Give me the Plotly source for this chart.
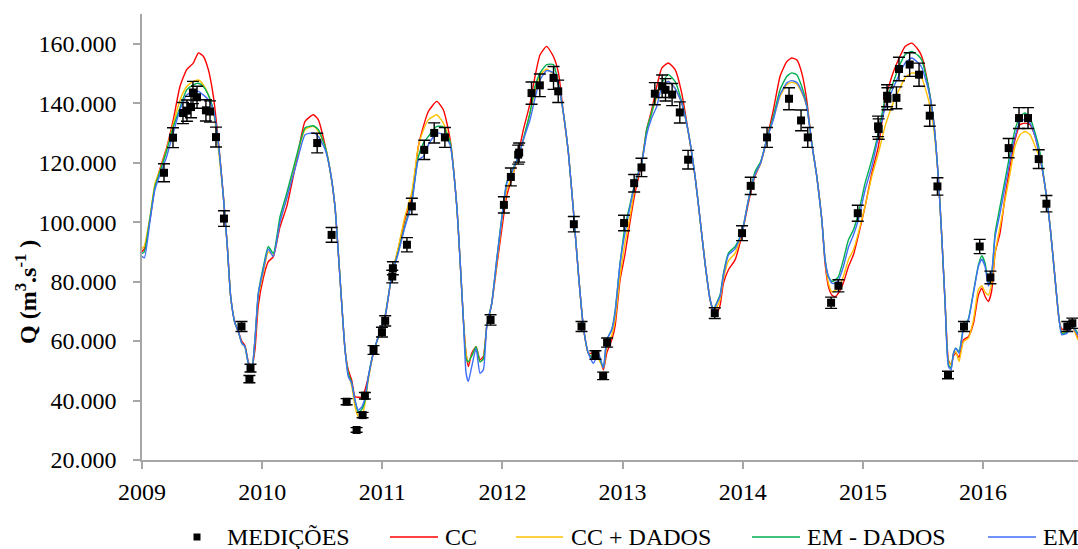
import plotly.graph_objects as go

# Simulated discharge (thousand m³/s) at decimal-year knots
t_sim = [
    2009.000, 2009.020, 2009.067, 2009.108, 2009.150, 2009.205, 2009.260, 2009.316, 2009.372, 2009.427, 2009.469, 2009.510, 2009.552, 2009.594, 2009.635, 2009.677, 2009.710, 2009.738, 2009.774, 2009.802, 2009.830, 2009.857, 2009.885, 2009.913, 2009.940, 2009.968,
    2010.010, 2010.051, 2010.093, 2010.149, 2010.205, 2010.288, 2010.357, 2010.426, 2010.468, 2010.523, 2010.565, 2010.606, 2010.634, 2010.662, 2010.690, 2010.717, 2010.745, 2010.773, 2010.800, 2010.829, 2010.856, 2010.884, 2010.925, 2010.967,
    2011.023, 2011.078, 2011.133, 2011.189, 2011.245, 2011.300, 2011.342, 2011.383, 2011.453, 2011.508, 2011.564, 2011.620, 2011.647, 2011.675, 2011.697, 2011.716, 2011.744, 2011.780, 2011.813, 2011.841, 2011.869, 2011.911, 2011.952, 2011.994,
    2012.036, 2012.077, 2012.132, 2012.174, 2012.230, 2012.271, 2012.313, 2012.368, 2012.424, 2012.466, 2012.507, 2012.549, 2012.590, 2012.632, 2012.673, 2012.715, 2012.757, 2012.798, 2012.840, 2012.868, 2012.910, 2012.937, 2012.979,
    2013.020, 2013.062, 2013.104, 2013.159, 2013.200, 2013.242, 2013.284, 2013.326, 2013.381, 2013.437, 2013.492, 2013.548, 2013.603, 2013.645, 2013.686, 2013.728, 2013.756, 2013.784, 2013.811, 2013.839, 2013.881, 2013.936,
    2013.992, 2014.047, 2014.102, 2014.150, 2014.199, 2014.255, 2014.310, 2014.366, 2014.407, 2014.449, 2014.491, 2014.532, 2014.574, 2014.616, 2014.658, 2014.685, 2014.713, 2014.741, 2014.768, 2014.796, 2014.837, 2014.879, 2014.921, 2014.962,
    2015.018, 2015.074, 2015.129, 2015.184, 2015.240, 2015.295, 2015.351, 2015.406, 2015.461, 2015.490, 2015.545, 2015.587, 2015.629, 2015.656, 2015.684, 2015.712, 2015.734, 2015.754, 2015.773, 2015.800, 2015.836, 2015.878, 2015.920, 2015.961,
    2015.989, 2016.017, 2016.044, 2016.072, 2016.100, 2016.141, 2016.183, 2016.225, 2016.266, 2016.308, 2016.350, 2016.391, 2016.433, 2016.475, 2016.516, 2016.558, 2016.600, 2016.633, 2016.655, 2016.697, 2016.738, 2016.790,
]

q_cc = [
    90.0, 91.0, 101.0, 112.0, 118.0, 125.0, 134.4, 145.6, 151.3, 153.5, 156.9, 155.8, 151.3, 142.3, 127.5, 109.0, 92.0, 75.0, 66.0, 63.2, 60.0, 58.5, 53.0, 51.0, 57.0, 72.0,
    81.3, 86.7, 88.4, 98.5, 105.3, 121.0, 133.9, 136.1, 134.4, 126.0, 117.6, 105.3, 89.6, 72.7, 57.0, 50.3, 46.9, 41.3, 41.1, 41.1, 43.6, 48.0, 56.0, 61.5,
    68.0, 82.0, 91.0, 101.0, 108.0, 125.5, 132.2, 137.2, 140.6, 137.8, 128.0, 105.3, 87.3, 67.1, 55.9, 51.4, 55.9, 58.1, 53.7, 54.8, 64.9, 72.7, 85.0, 97.5,
    109.0, 114.5, 123.0, 131.1, 140.0, 149.0, 156.3, 159.1, 155.7, 150.2, 136.7, 123.2, 104.1, 82.8, 64.9, 55.9, 56.0, 55.5, 50.3, 56.0, 60.4, 64.9, 80.6,
    89.2, 100.2, 110.0, 120.0, 131.1, 137.8, 145.6, 151.8, 153.5, 151.3, 143.4, 130.0, 115.4, 100.8, 86.2, 73.9, 70.0, 69.4, 72.0, 79.4, 84.0, 87.3,
    95.5, 106.5, 115.5, 120.0, 127.7, 137.8, 149.0, 154.0, 155.2, 154.6, 150.2, 141.2, 126.6, 115.4, 100.8, 86.0, 78.3, 75.5, 74.9, 76.1, 79.5, 85.0, 89.0, 95.5,
    105.3, 116.5, 125.5, 140.5, 149.0, 154.6, 159.1, 160.2, 157.9, 155.7, 145.6, 134.4, 114.2, 95.2, 72.7, 53.5, 52.0, 55.0, 56.0, 54.5, 60.4, 61.5, 66.0, 75.5,
    77.8, 75.0, 73.3, 77.0, 89.6, 96.3, 108.5, 119.0, 127.7, 132.8, 133.3, 132.8, 128.8, 121.5, 112.0, 98.5, 80.6, 67.1, 64.0, 64.0, 65.0, 61.0,
]

q_cc_dados = [
    91.0, 92.0, 102.0, 113.0, 117.5, 124.5, 133.0, 141.0, 145.6, 147.3, 147.8, 146.2, 142.8, 137.0, 125.0, 108.6, 91.8, 75.0, 66.0, 63.2, 59.3, 58.1, 52.5, 50.3, 60.0, 75.0,
    83.0, 90.0, 89.0, 100.5, 108.0, 122.0, 131.1, 132.2, 130.5, 125.5, 117.6, 105.3, 89.6, 72.7, 57.0, 49.0, 45.0, 37.9, 34.6, 34.8, 39.0, 47.0, 56.0, 61.5,
    68.5, 82.0, 91.5, 102.0, 110.0, 125.5, 131.0, 134.4, 136.1, 133.3, 127.0, 105.3, 87.3, 67.1, 55.9, 53.0, 55.0, 58.1, 53.0, 54.0, 64.9, 72.7, 86.0, 100.0,
    111.0, 115.0, 122.1, 127.7, 136.7, 144.0, 149.5, 151.5, 149.6, 146.0, 136.7, 123.2, 104.1, 82.8, 64.9, 55.9, 54.5, 54.0, 51.0, 58.0, 62.0, 67.0, 82.0,
    93.0, 102.0, 112.0, 119.9, 130.5, 136.7, 142.0, 146.2, 147.3, 145.0, 140.0, 130.0, 115.4, 100.8, 86.2, 73.9, 70.5, 71.5, 74.0, 81.0, 87.0, 89.5,
    96.3, 107.5, 116.0, 120.0, 127.7, 135.0, 142.3, 146.2, 147.0, 146.5, 143.5, 139.0, 126.6, 115.4, 100.8, 87.3, 79.5, 76.6, 77.0, 77.8, 81.7, 87.3, 90.7, 96.3,
    105.3, 115.4, 123.2, 132.2, 138.9, 144.0, 148.5, 150.2, 149.8, 148.5, 141.2, 132.0, 114.2, 95.2, 72.7, 53.0, 52.0, 55.5, 56.5, 53.1, 59.8, 61.0, 67.1, 77.3,
    78.6, 76.5, 75.5, 79.5, 89.6, 98.5, 107.5, 116.5, 125.5, 129.4, 130.5, 129.4, 125.5, 121.0, 112.0, 98.5, 80.6, 67.1, 63.0, 63.5, 65.0, 60.4,
]

q_em_dados = [
    89.5, 90.0, 101.5, 112.0, 117.0, 124.0, 132.0, 138.5, 144.5, 146.2, 146.7, 145.6, 142.8, 137.8, 126.6, 108.6, 91.8, 75.0, 66.0, 63.2, 59.3, 58.1, 52.5, 50.3, 60.4, 76.0,
    85.0, 91.8, 89.5, 101.9, 109.8, 122.5, 131.7, 132.4, 131.1, 125.5, 117.6, 105.3, 89.6, 72.7, 57.0, 49.0, 46.0, 40.0, 36.0, 37.0, 40.0, 48.0, 56.0, 61.5,
    68.5, 82.0, 90.0, 99.0, 107.0, 122.0, 126.6, 128.8, 132.2, 132.0, 127.0, 105.3, 87.3, 67.1, 54.0, 53.0, 55.0, 58.1, 53.0, 54.0, 64.9, 72.7, 87.3, 101.5,
    113.5, 117.0, 122.1, 128.0, 137.0, 145.6, 150.2, 153.0, 153.0, 146.5, 136.7, 123.2, 104.1, 82.8, 64.9, 55.9, 54.0, 55.0, 51.0, 60.4, 64.0, 70.0, 86.2,
    98.5, 106.0, 113.5, 119.9, 131.1, 136.7, 143.4, 146.8, 149.6, 147.3, 140.5, 130.0, 115.4, 100.8, 86.2, 73.9, 70.5, 73.0, 75.5, 82.8, 89.6, 91.8,
    96.3, 107.5, 117.0, 120.5, 127.7, 135.6, 144.5, 149.0, 150.2, 149.6, 145.6, 139.5, 126.6, 115.4, 100.8, 87.3, 81.7, 80.0, 80.6, 81.7, 87.3, 94.0, 97.4, 103.0,
    113.1, 121.0, 130.0, 141.2, 145.6, 151.8, 156.3, 157.4, 156.0, 154.5, 145.6, 134.4, 114.2, 95.2, 72.7, 52.0, 51.0, 56.0, 57.6, 56.5, 64.3, 67.5, 76.6, 85.5,
    88.7, 86.2, 79.5, 82.8, 96.3, 105.3, 114.2, 123.2, 131.1, 135.6, 136.7, 135.0, 130.0, 123.2, 112.0, 98.5, 80.6, 67.1, 62.5, 63.0, 65.5, 62.5,
]

q_em = [
    88.5, 88.0, 100.5, 111.0, 116.0, 122.0, 130.0, 137.8, 142.8, 144.0, 144.0, 142.8, 141.2, 137.8, 126.6, 108.6, 91.8, 75.0, 66.0, 63.2, 59.3, 58.1, 52.5, 50.3, 60.4, 76.0,
    84.0, 91.0, 88.4, 100.2, 108.1, 120.0, 129.4, 130.0, 128.8, 124.5, 117.6, 105.3, 89.6, 72.7, 57.0, 48.0, 45.9, 40.0, 36.8, 37.9, 41.0, 48.0, 56.0, 61.5,
    68.0, 82.0, 89.6, 98.5, 106.0, 121.0, 122.1, 126.0, 130.0, 129.4, 126.0, 105.3, 87.3, 67.1, 49.2, 46.4, 51.4, 57.5, 49.2, 50.3, 64.9, 72.7, 87.3, 101.0,
    113.1, 116.5, 122.1, 127.7, 134.5, 141.7, 147.9, 151.0, 150.2, 146.0, 136.7, 123.2, 104.1, 82.8, 64.9, 55.9, 52.5, 55.9, 51.0, 60.4, 63.8, 69.4, 86.2,
    96.5, 105.3, 113.1, 119.9, 129.4, 135.0, 138.9, 145.6, 147.3, 145.0, 140.0, 130.0, 115.4, 100.8, 86.2, 73.9, 70.5, 72.7, 75.0, 82.0, 89.0, 91.0,
    96.3, 107.5, 116.0, 120.0, 127.7, 134.5, 142.9, 146.8, 147.6, 147.0, 144.0, 139.0, 126.6, 115.4, 100.8, 87.3, 81.7, 79.5, 79.5, 80.5, 85.0, 91.5, 95.7, 100.8,
    110.8, 118.7, 128.8, 138.4, 144.0, 149.0, 153.5, 155.2, 153.5, 152.0, 144.5, 134.4, 114.2, 95.2, 72.7, 51.4, 50.3, 55.9, 57.6, 55.9, 63.8, 67.1, 76.1, 85.1,
    87.5, 85.0, 78.5, 82.8, 95.0, 103.0, 112.0, 121.0, 128.8, 133.9, 134.5, 133.3, 128.8, 121.5, 112.0, 98.5, 80.6, 67.1, 62.1, 62.6, 65.0, 62.0,
]

# Gauged discharge (thousand m³/s)
t_obs = [
    2009.183, 2009.258, 2009.341, 2009.374, 2009.408, 2009.424, 2009.458, 2009.532, 2009.566, 2009.616, 2009.682, 2009.828, 2009.903, 2009.894,
    2010.458, 2010.578, 2010.703, 2010.786, 2010.836, 2010.855, 2010.927, 2010.997,
    2011.024, 2011.083, 2011.088, 2011.205, 2011.246, 2011.349, 2011.432, 2011.521, 2011.901,
    2012.012, 2012.070, 2012.131, 2012.139, 2012.242, 2012.311, 2012.425, 2012.464, 2012.594, 2012.658, 2012.774, 2012.838, 2012.871,
    2013.012, 2013.096, 2013.157, 2013.268, 2013.329, 2013.357, 2013.412, 2013.476, 2013.545, 2013.767, 2013.994,
    2014.066, 2014.202, 2014.385, 2014.485, 2014.541, 2014.735, 2014.796, 2014.957,
    2015.126, 2015.131, 2015.201, 2015.204, 2015.279, 2015.300, 2015.389, 2015.467, 2015.556, 2015.620, 2015.708, 2015.841, 2015.972,
    2016.061, 2016.213, 2016.299, 2016.374, 2016.463, 2016.527, 2016.701, 2016.743,
]
q_obs = [
    116.6, 128.4, 136.7, 137.5, 138.7, 143.6, 142.0, 137.6, 137.2, 128.6, 101.2, 64.9, 50.9, 47.2,
    126.6, 95.7, 39.6, 30.1, 35.1, 41.6, 57.0, 63.0,
    66.8, 81.7, 84.5, 92.4, 105.3, 124.3, 130.0, 128.5, 67.1,
    105.8, 115.2, 122.7, 123.4, 143.4, 146.0, 148.5, 144.0, 99.3, 64.9, 55.3, 48.3, 59.5,
    99.7, 113.1, 118.4, 143.2, 145.7, 144.5, 142.9, 136.9, 121.0, 69.4, 96.3,
    112.2, 128.5, 141.5, 134.2, 128.5, 72.9, 78.6, 103.0,
    132.2, 131.3, 142.5, 141.5, 141.8, 151.5, 153.0, 149.6, 135.8, 112.0, 48.6, 64.9, 91.8,
    81.4, 124.9, 135.0, 135.0, 121.2, 106.2, 64.9, 66.0,
]
obs_error_pct = 2.6

THOUSAND = 1000.0

series = [
    ("CC", q_cc, "#FF0000"),
    ("CC + DADOS", q_cc_dados, "#FFC000"),
    ("EM - DADOS", q_em_dados, "#00B050"),
    ("EM", q_em, "#3F6FF8"),
]
for name, q, _ in series:
    if len(q) != len(t_sim):
        raise ValueError(f"{name}: {len(q)} values for {len(t_sim)} knots")

SERIF = "Liberation Serif, Times New Roman, Times, DejaVu Serif, serif"
FONT_SIZE = 24

fig = go.Figure()

for name, q, color in series:
    fig.add_trace(go.Scatter(
        x=t_sim, y=[v * THOUSAND for v in q], name=name, mode="lines",
        line=dict(color=color, width=1.4, shape="spline", smoothing=0.5),
        showlegend=False,
    ))

fig.add_trace(go.Scatter(
    x=t_obs, y=[v * THOUSAND for v in q_obs], name="MEDIÇÕES", mode="markers",
    marker=dict(symbol="square", size=8, color="black"),
    error_y=dict(type="percent", value=obs_error_pct, color="black",
                 thickness=1.4, width=6),
    showlegend=False,
))

# Plot-area geometry in pixels, used to place the legend row below the axis
W, H = 1078, 549
ML, MR, MT, MB = 142, 0, 14, 89
PW, PH = W - ML - MR, H - MT - MB


def fx(px):
    return (px - ML) / PW


def fy(py):
    return (H - MB - py) / PH


LEG_Y = 537
legend_font = dict(family=SERIF, size=FONT_SIZE, color="black")
shapes = []
annotations = []

# MEDIÇÕES key: small black square
shapes.append(dict(type="rect", xref="paper", yref="paper",
                   x0=fx(193.5), x1=fx(200.5), y0=fy(540.5), y1=fy(533.5),
                   fillcolor="black", line=dict(width=0)))
annotations.append(dict(text="MEDIÇÕES", x=fx(225), y=fy(LEG_Y), xref="paper",
                        yref="paper", xanchor="left", yanchor="middle",
                        showarrow=False, font=legend_font))

line_keys = [(390, 438, 443), (516, 563, 569), (752, 800, 805), (988, 1036, 1041)]
for (name, _, color), (x0, x1, xt) in zip(series, line_keys):
    shapes.append(dict(type="line", xref="paper", yref="paper",
                       x0=fx(x0), x1=fx(x1), y0=fy(LEG_Y), y1=fy(LEG_Y),
                       line=dict(color=color, width=1.4)))
    annotations.append(dict(text=name, x=fx(xt), y=fy(LEG_Y), xref="paper",
                            yref="paper", xanchor="left", yanchor="middle",
                            showarrow=False, font=legend_font))

# Y-axis title
annotations.append(dict(text="<b>Q (m<sup>3</sup>.s<sup>-1</sup> )</b>",
                        x=fx(26), y=fy(292), xref="paper", yref="paper",
                        xanchor="center", yanchor="middle", textangle=-90,
                        showarrow=False,
                        font=dict(family=SERIF, size=FONT_SIZE, color="black")))

axis_common = dict(showgrid=False, zeroline=False, showline=True,
                   linecolor="#A6A6A6", linewidth=1.5, ticks="outside",
                   tickcolor="#A6A6A6", tickwidth=1.5, ticklen=7,
                   tickfont=dict(family=SERIF, size=FONT_SIZE, color="black"))

fig.update_layout(
    width=W, height=H,
    margin=dict(l=ML, r=MR, t=MT, b=MB, pad=0),
    paper_bgcolor="white", plot_bgcolor="white",
    font=dict(family=SERIF, size=FONT_SIZE, color="black"),
    separators=",.",
    showlegend=False,
    shapes=shapes,
    annotations=annotations,
    xaxis=dict(range=[2009, 2016.79], tick0=2009, dtick=1, tickformat="d",
               ticklabelstandoff=2, **axis_common),
    yaxis=dict(range=[20000, 170000], tick0=20000, dtick=20000,
               tickformat=",.0f", ticklabelstandoff=12, **axis_common),
)

fig.write_html("out.html")
